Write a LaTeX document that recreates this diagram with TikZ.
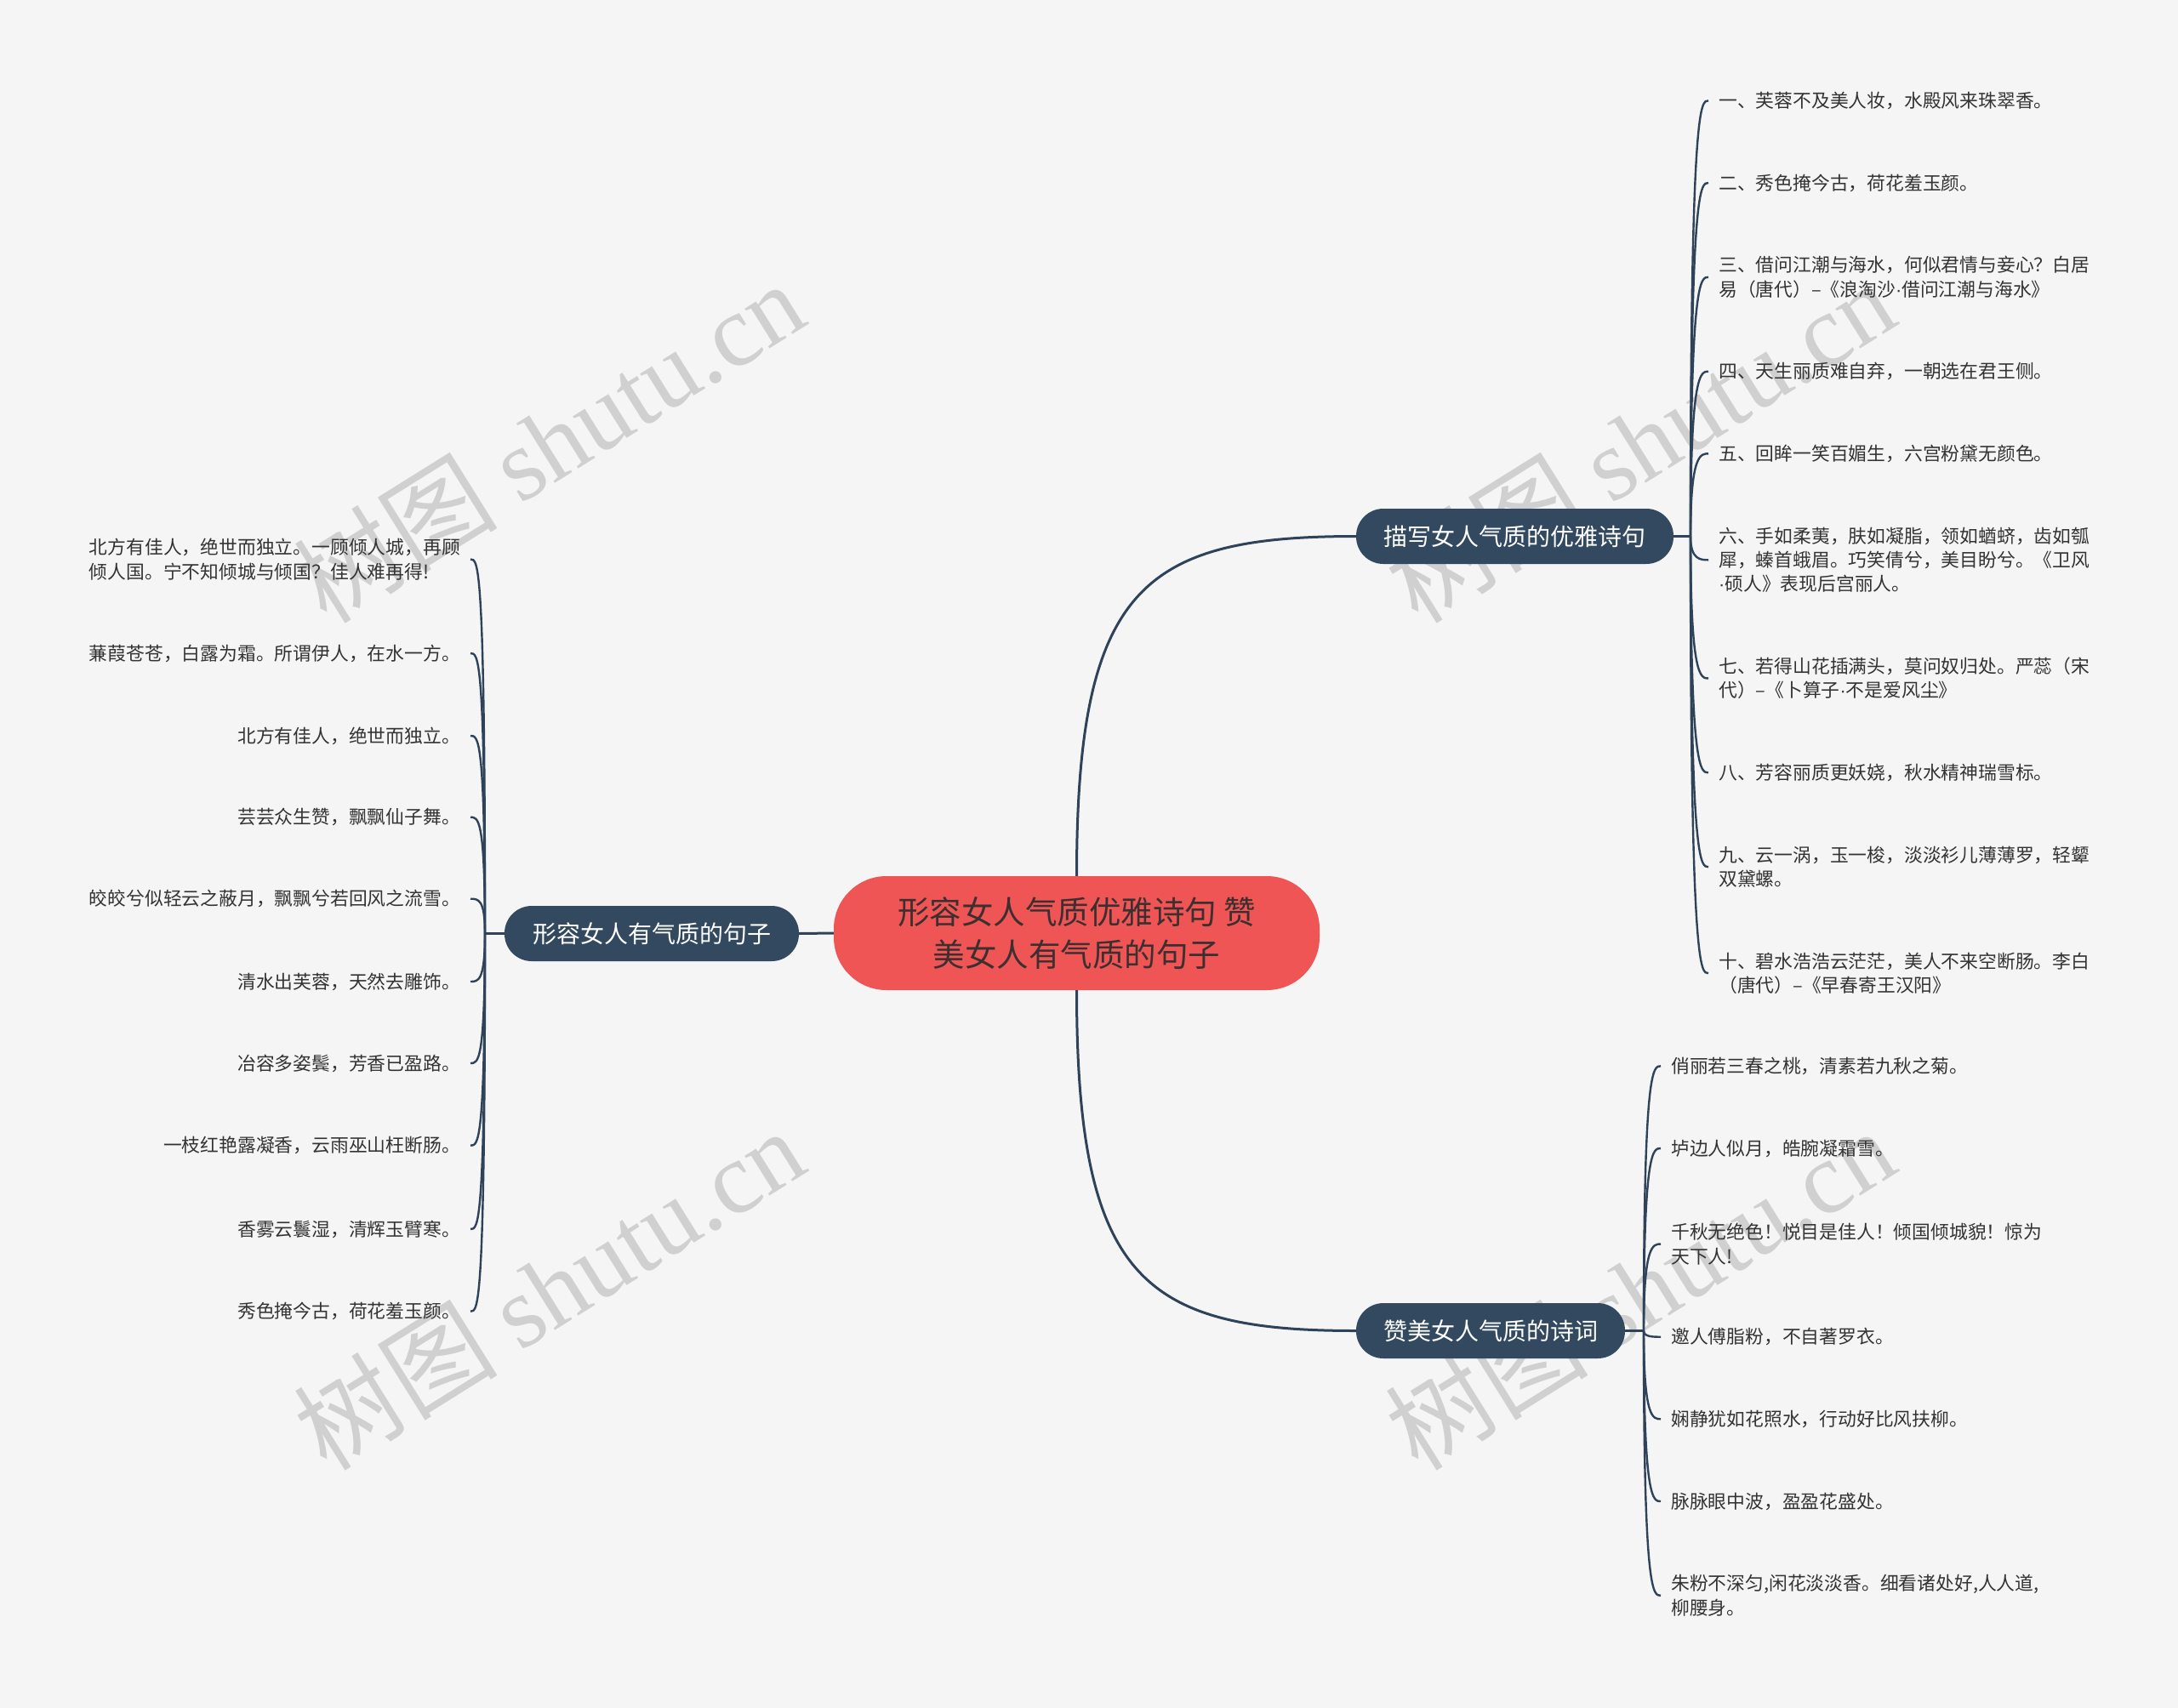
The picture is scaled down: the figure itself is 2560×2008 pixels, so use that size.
\documentclass[tikz,border=0pt]{standalone}
\usepackage{fontspec}
\setmainfont{Noto Sans CJK SC}
\newfontfamily\wmserif{Liberation Serif}
\newfontfamily\latinsans{Liberation Sans}
\newcommand{\mdot}{{\latinsans ·}}
\usetikzlibrary{calc}
\definecolor{bg}{HTML}{F5F5F5}
\definecolor{navy}{HTML}{33495F}
\definecolor{lineclr}{HTML}{2E4259}
\definecolor{rootred}{HTML}{EF5555}
\definecolor{roottext}{HTML}{3B2F2F}
\definecolor{leaftext}{HTML}{333333}
\definecolor{wm}{HTML}{D0D0D0}
\tikzset{
  leaf/.style={font=\fontsize{21.8}{28.3}\selectfont, text=leaftext, inner ysep=0pt, inner xsep=12pt, align=left},
  leafL/.style={leaf, anchor=east},
  leafR/.style={leaf, anchor=west},
  branch/.style={fill=navy, text=white, rounded corners=32pt, minimum height=65pt, inner sep=0pt, font=\fontsize{28}{34}\selectfont},
  rootnode/.style={fill=rootred, text=roottext, rounded corners=62pt, minimum width=571pt, minimum height=134pt, inner sep=0pt, align=center, font=\fontsize{37.5}{50}\selectfont},
  conn/.style={draw=lineclr, line width=3pt},
  leafconn/.style={draw=lineclr, line width=2.4pt},
  wmark/.style={text=wm, rotate=32, inner sep=0pt, font=\fontsize{120}{120}\selectfont}
}
\begin{document}
\begin{tikzpicture}[x=1pt,y=-1pt]
\fill[bg] (0,0) rectangle (2560,2008);
\useasboundingbox (0,0) rectangle (2560,2008);

% watermarks
\node[wmark] (w1) at (645,519) {树图 {\wmserif shutu.cn}};
\node[wmark] (w2) at (1927,519) {树图 {\wmserif shutu.cn}};
\node[wmark] (w3) at (645,1515) {树图 {\wmserif shutu.cn}};
\node[wmark] (w4) at (1927,1515) {树图 {\wmserif shutu.cn}};

% root and branches
\node[rootnode] (C) at (1265.5,1097) {形容女人气质优雅诗句 赞\\美女人有气质的句子};
\node[branch, minimum width=346pt] (L) at (766,1097.5) {形容女人有气质的句子};
\node[branch, minimum width=373pt] (R1) at (1780.5,630.5) {描写女人气质的优雅诗句};
\node[branch, minimum width=316pt] (R2) at (1752,1564.5) {赞美女人气质的诗词};

\coordinate (jL) at (570,1097.5);
\coordinate (jR1) at (1987,630.5);
\coordinate (jR2) at (1932,1564.5);

% left leaves
\node[leafL] (l1) at (553,657.5) {北方有佳人，绝世而独立。一顾倾人城，再顾\\倾人国。宁不知倾城与倾国？佳人难再得!};
\node[leafL] (l2) at (553,768) {蒹葭苍苍，白露为霜。所谓伊人，在水一方。};
\node[leafL] (l3) at (553,865) {北方有佳人，绝世而独立。};
\node[leafL] (l4) at (553,960.7) {芸芸众生赞，飘飘仙子舞。};
\node[leafL] (l5) at (553,1056.7) {皎皎兮似轻云之蔽月，飘飘兮若回风之流雪。};
\node[leafL] (l6) at (553,1154) {清水出芙蓉，天然去雕饰。};
\node[leafL] (l7) at (553,1250) {冶容多姿鬓，芳香已盈路。};
\node[leafL] (l8) at (553,1346.7) {一枝红艳露凝香，云雨巫山枉断肠。};
\node[leafL] (l9) at (553,1445) {香雾云鬟湿，清辉玉臂寒。};
\node[leafL] (l10) at (553,1541.7) {秀色掩今古，荷花羞玉颜。};

% right top leaves
\node[leafR] (r1) at (2008,118.3) {一、芙蓉不及美人妆，水殿风来珠翠香。};
\node[leafR] (r2) at (2008,215) {二、秀色掩今古，荷花羞玉颜。};
\node[leafR] (r3) at (2008,325.8) {三、借问江潮与海水，何似君情与妾心？白居\\易（唐代）–《浪淘沙\mdot 借问江潮与海水》};
\node[leafR] (r4) at (2008,436.7) {四、天生丽质难自弃，一朝选在君王侧。};
\node[leafR] (r5) at (2008,533.3) {五、回眸一笑百媚生，六宫粉黛无颜色。};
\node[leafR] (r6) at (2008,658.3) {六、手如柔荑，肤如凝脂，领如蝤蛴，齿如瓠\\犀，螓首蛾眉。巧笑倩兮，美目盼兮。《卫风\\\mdot 硕人》表现后宫丽人。};
\node[leafR] (r7) at (2008,797.5) {七、若得山花插满头，莫问奴归处。严蕊（宋\\代）–《卜算子\mdot 不是爱风尘》};
\node[leafR] (r8) at (2008,908.3) {八、芳容丽质更妖娆，秋水精神瑞雪标。};
\node[leafR] (r9) at (2008,1019.2) {九、云一涡，玉一梭，淡淡衫儿薄薄罗，轻颦\\双黛螺。};
\node[leafR] (r10) at (2008,1144.2) {十、碧水浩浩云茫茫，美人不来空断肠。李白\\（唐代）–《早春寄王汉阳》};

% right bottom leaves
\node[leafR] (b1) at (1952,1253.3) {俏丽若三春之桃，清素若九秋之菊。};
\node[leafR] (b2) at (1952,1350) {垆边人似月，皓腕凝霜雪。};
\node[leafR] (b3) at (1952,1462.5) {千秋无绝色！悦目是佳人！倾国倾城貌！惊为\\天下人!};
\node[leafR] (b4) at (1952,1571.7) {邀人傅脂粉，不自著罗衣。};
\node[leafR] (b5) at (1952,1668.3) {娴静犹如花照水，行动好比风扶柳。};
\node[leafR] (b6) at (1952,1765) {脉脉眼中波，盈盈花盛处。};
\node[leafR] (b7) at (1952,1875.8) {朱粉不深匀,闲花淡淡香。细看诸处好,人人道,\\柳腰身。};

% root connectors
\draw[conn] (C.west) -- (L.east);
\draw[conn] (C.north) .. controls ($(C.north)+(0,-340)$) and ($(R1.west)+(-250,0)$) .. (R1.west);
\draw[conn] (C.south) .. controls ($(C.south)+(0,340)$) and ($(R2.west)+(-250,0)$) .. (R2.west);

% leaf connectors
\draw[leafconn] (L.west) -- (jL);
\draw[leafconn] (R1.east) -- (jR1);
\draw[leafconn] (R2.east) -- (jR2);
\foreach \n in {1,...,10}{
  \draw[leafconn] (jL) .. controls (jL |- l\n.east) and ($(l\n.east)+(9,0)$) .. (l\n.east);
  \draw[leafconn] (jR1) .. controls (jR1 |- r\n.west) and ($(r\n.west)+(-9,0)$) .. (r\n.west);
}
\foreach \n in {1,...,7}{
  \draw[leafconn] (jR2) .. controls (jR2 |- b\n.west) and ($(b\n.west)+(-9,0)$) .. (b\n.west);
}
\end{tikzpicture}
\end{document}
